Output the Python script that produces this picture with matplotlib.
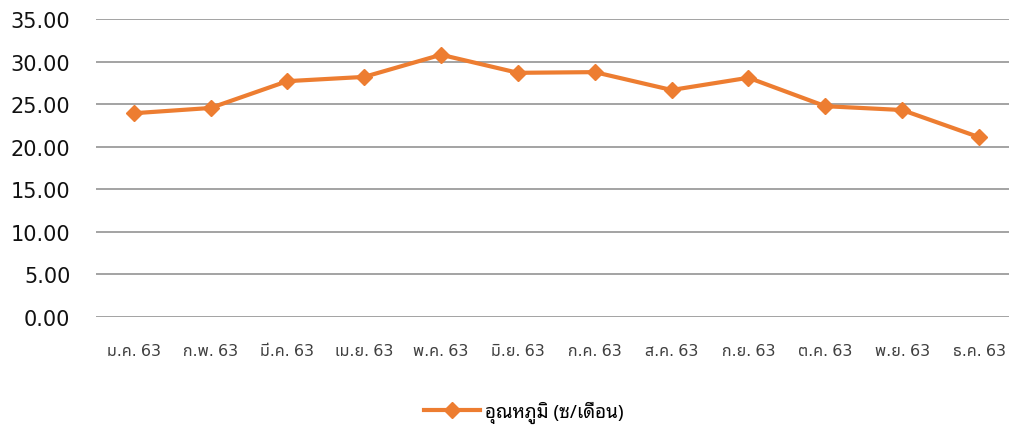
import matplotlib
matplotlib.use("Agg")
import matplotlib.pyplot as plt
import numpy as np

# อุณหภูมิเฉลี่ยรายเดือน ปี 2563
months = ["ม.ค. 63", "ก.พ. 63", "มี.ค. 63", "เม.ย. 63", "พ.ค. 63", "มิ.ย. 63",
          "ก.ค. 63", "ส.ค. 63", "ก.ย. 63", "ต.ค. 63", "พ.ย. 63", "ธ.ค. 63"]
temps = [23.93, 24.55, 27.70, 28.20, 30.80, 28.68,
         28.76, 26.66, 28.10, 24.76, 24.31, 21.12]
series_name = "อุณหภูมิ (ซ/เดือน)"
yticks = [0, 5, 10, 15, 20, 25, 30, 35]

orange = "#ED7D31"
grid_color = "#A3A3A3"

fig = plt.figure(figsize=(10.09, 4.35), dpi=100)
ax = fig.add_axes([96 / 1009, 1 - 318 / 435, 1 - 96 / 1009, 298 / 435])

x = np.arange(len(months))
ax.plot(x, temps, color=orange, lw=3, marker="D", markersize=8.5,
        markeredgecolor=orange, label=series_name, zorder=3)

ax.set_ylim(0, 35)
ax.set_xlim(-0.49, 11.39)
ax.set_yticks(yticks)
ax.set_yticklabels([f"{v:.2f}" for v in yticks], fontsize=15,
                   family=["DejaVu Sans"], color="#111111")
ax.set_xticks(x)
ax.set_xticklabels(months, fontsize=11.5, family=["Noto Sans Thai UI", "DejaVu Sans"],
                   color="#404040")
ax.tick_params(length=0)
ax.tick_params(axis="y", pad=18.5)
ax.tick_params(axis="x", pad=19)
ax.grid(axis="y", color=grid_color, lw=1.4)
ax.set_axisbelow(True)
for s in ax.spines.values():
    s.set_visible(False)

fig.legend(loc="center", bbox_to_anchor=(524 / 1009, 1 - 413 / 435), frameon=False,
           handlelength=3.0, handletextpad=0.25,
           prop={"family": ["Noto Sans Thai Looped", "DejaVu Sans"], "size": 13.5})

fig.savefig("out.png")
